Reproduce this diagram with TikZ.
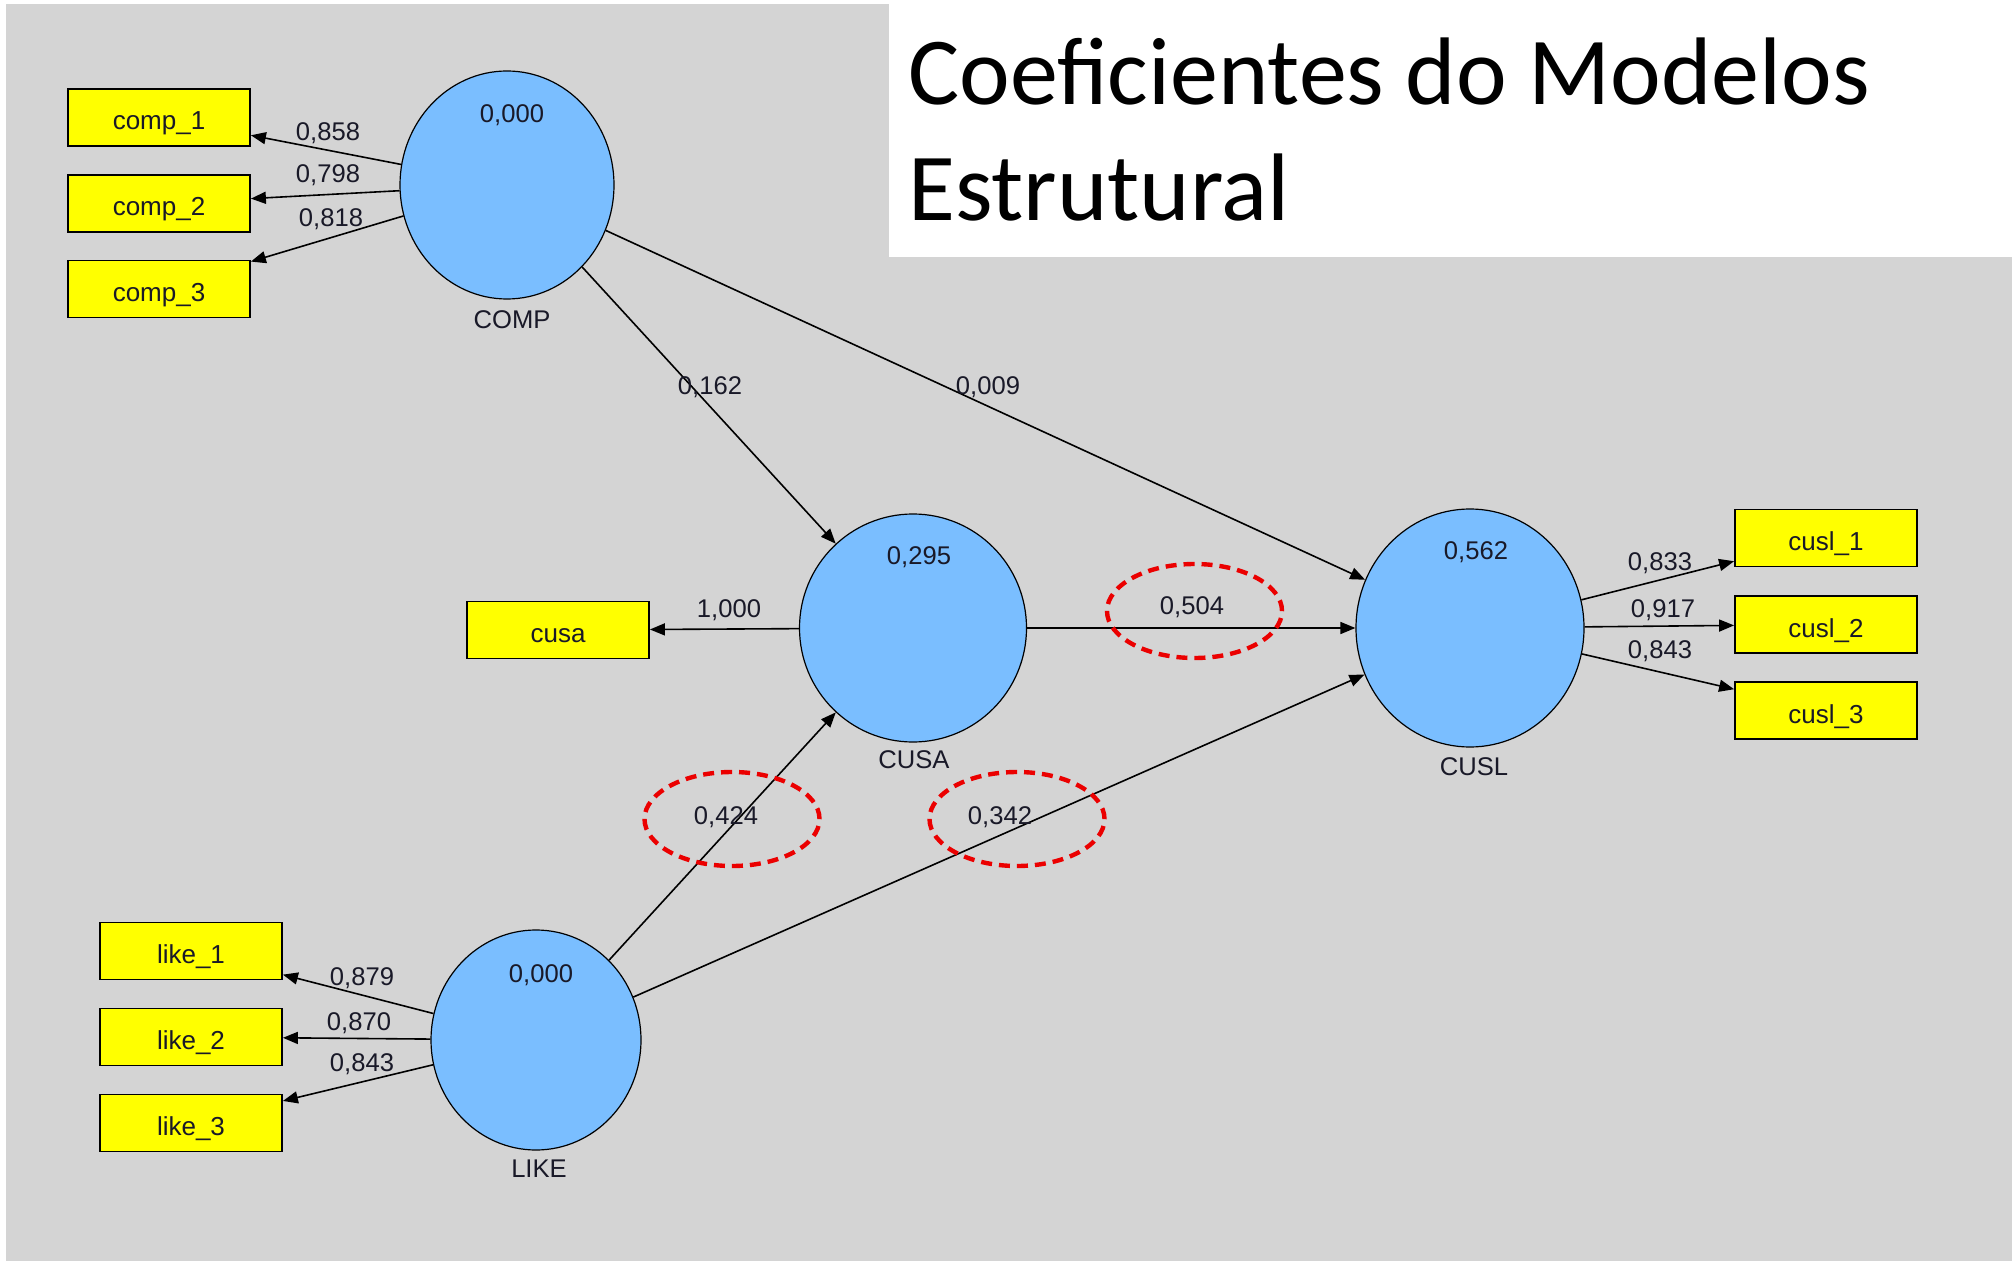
\documentclass[tikz,border=0pt]{standalone}
\usepackage{fontspec}
\setmainfont{Liberation Sans}
\newfontfamily\titlefont{Carlito}
\usetikzlibrary{shapes.geometric,arrows.meta}
\definecolor{bggray}{RGB}{212,212,212}
\definecolor{lvblue}{RGB}{122,190,255}
\definecolor{mvyellow}{RGB}{255,255,0}
\definecolor{hlred}{RGB}{235,0,0}
\definecolor{txt}{RGB}{25,25,40}
\begin{document}
\begin{tikzpicture}[x=0.5pt,y=-0.5pt,
  lvar/.style={ellipse,draw=black,line width=0.6pt,fill=lvblue,inner sep=0pt},
  mvar/.style={rectangle,draw=black,line width=0.9pt,fill=mvyellow,minimum width=91pt,minimum height=28.5pt,inner sep=0pt,text height=12.5pt,text depth=0pt,text=txt,font=\fontsize{13}{15}\selectfont},
  coef/.style={font=\fontsize{12.8}{14}\selectfont,inner sep=0pt,text=txt},
  lvname/.style={font=\fontsize{12.8}{14}\selectfont,inner sep=0pt,text=txt},
  conn/.style={draw=black,line width=0.8pt,-{Triangle[length=7.5pt,width=6pt]}},
  hlring/.style={ellipse,draw=hlred,line width=2.2pt,dash pattern=on 5.5pt off 3.5pt,minimum width=87.5pt,minimum height=47pt,inner sep=0pt}
]
\useasboundingbox (0,0) rectangle (2012,1261);
\fill[white] (0,0) rectangle (2012,1261);
\fill[bggray] (6,4) rectangle (2012,1261);
\fill[white] (889,4) rectangle (2012,257);
\node[anchor=base west,inner sep=0pt,font=\titlefont\fontsize{48}{50}\selectfont] (t1) at (908,105) {Coeficientes do Modelos};
\node[anchor=base west,inner sep=0pt,font=\titlefont\fontsize{48}{50}\selectfont] (t2) at (908,221) {Estrutural};

% latent variables
\node[lvar,minimum width=107pt,minimum height=114pt] (COMP) at (507,185) {};
\node[lvar,minimum width=113.5pt,minimum height=114pt] (CUSA) at (913,628) {};
\node[lvar,minimum width=114pt,minimum height=119pt] (CUSL) at (1470,628) {};
\node[lvar,minimum width=105pt,minimum height=110pt] (LIKE) at (536,1040) {};

\node[coef] (COMPv) at (512,115) {0,000};
\node[coef] (CUSAv) at (919,557) {0,295};
\node[coef] (CUSLv) at (1476,552) {0,562};
\node[coef] (LIKEv) at (541,975) {0,000};

\node[lvname] (COMPn) at (512,320) {COMP};
\node[lvname] (CUSAn) at (914,760) {CUSA};
\node[lvname] (CUSLn) at (1474,767) {CUSL};
\node[lvname] (LIKEn) at (539,1169) {LIKE};

% manifest variables
\node[mvar] (comp1) at (159,117.5) {comp\_1};
\node[mvar] (comp2) at (159,203.5) {comp\_2};
\node[mvar] (comp3) at (159,289) {comp\_3};
\node[mvar] (cusa) at (558,630) {cusa};
\node[mvar] (cusl1) at (1826,538) {cusl\_1};
\node[mvar] (cusl2) at (1826,624.5) {cusl\_2};
\node[mvar] (cusl3) at (1826,710.5) {cusl\_3};
\node[mvar] (like1) at (191,951) {like\_1};
\node[mvar] (like2) at (191,1037) {like\_2};
\node[mvar] (like3) at (191,1123) {like\_3};

% outer model
\draw[conn] (COMP) -- (comp1);
\draw[conn] (COMP) -- (comp2);
\draw[conn] (COMP) -- (comp3);
\draw[conn] (CUSA) -- (cusa);
\draw[conn] (CUSL) -- (cusl1);
\draw[conn] (CUSL) -- (cusl2);
\draw[conn] (CUSL) -- (cusl3);
\draw[conn] (LIKE) -- (like1);
\draw[conn] (LIKE) -- (like2);
\draw[conn] (LIKE) -- (like3);

% inner model
\draw[conn] (COMP) -- (CUSA);
\draw[conn] (COMP) -- (CUSL);
\draw[conn] (CUSA) -- (CUSL);
\draw[conn] (LIKE) -- (CUSA);
\draw[conn] (LIKE) -- (CUSL);

% loadings
\node[coef] (l1) at (328,133) {0,858};
\node[coef] (l2) at (328,175) {0,798};
\node[coef] (l3) at (331,219) {0,818};
\node[coef] (l4) at (729,610) {1,000};
\node[coef] (l5) at (1660,563) {0,833};
\node[coef] (l6) at (1663,610) {0,917};
\node[coef] (l7) at (1660,651) {0,843};
\node[coef] (l8) at (362,978) {0,879};
\node[coef] (l9) at (359,1023) {0,870};
\node[coef] (l10) at (362,1064) {0,843};

% path coefficients
\node[coef] (p1) at (710,387) {0,162};
\node[coef] (p2) at (988,387) {0,009};
\node[coef] (p3) at (1192,607) {0,504};
\node[coef] (p4) at (726,817) {0,424};
\node[coef] (p5) at (1000,817) {0,342};

% highlights
\node[hlring] (h1) at (1194.5,611) {};
\node[hlring] (h2) at (732,819) {};
\node[hlring] (h3) at (1017,819) {};
\end{tikzpicture}
\end{document}
